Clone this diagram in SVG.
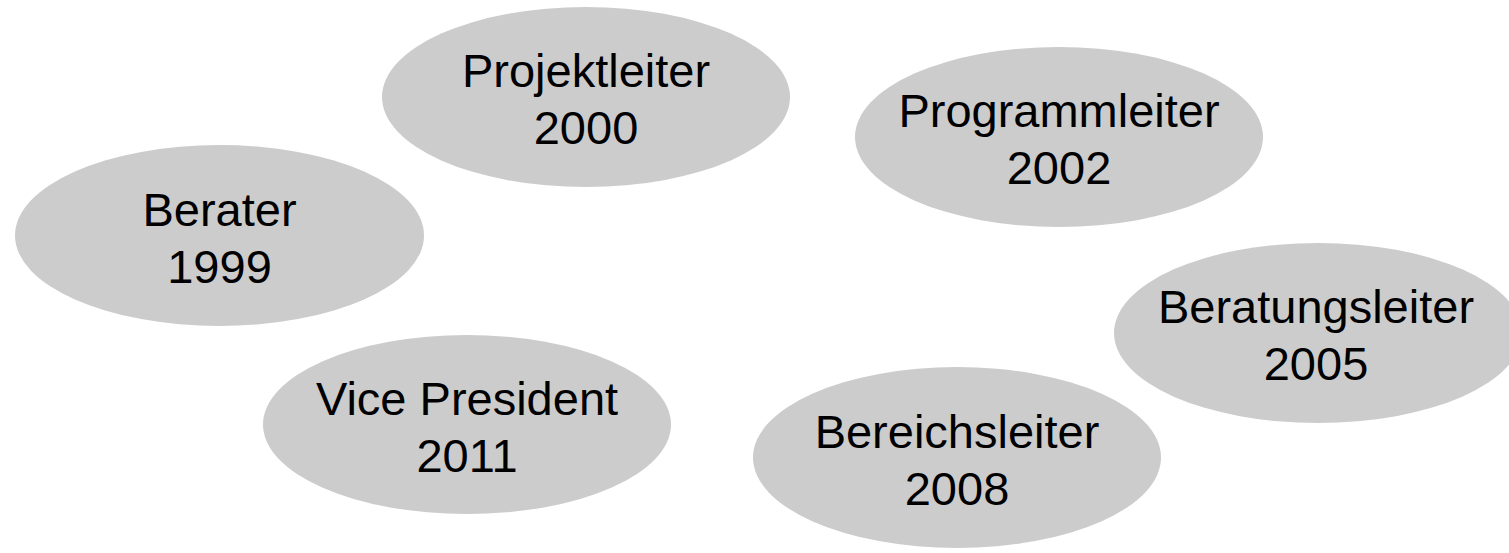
<svg xmlns="http://www.w3.org/2000/svg" width="1509" height="553" viewBox="0 0 1509 553">
<style>
.node ellipse{fill:#cccccc;stroke:none}
.node text{font-family:"Liberation Sans",Arial,sans-serif;font-size:47px;fill:#000;text-anchor:middle}
</style>
<rect width="1509" height="553" fill="#ffffff"/>
<g id="connectors"></g>
<g id="berater" class="node">
<ellipse cx="219.5" cy="235.5" rx="204.5" ry="90.5"/>
<text x="219.5" y="225.5">Berater</text>
<text x="219.5" y="282.5">1999</text>
</g>
<g id="projektleiter" class="node">
<ellipse cx="586" cy="97" rx="204" ry="90"/>
<text x="586" y="87">Projektleiter</text>
<text x="586" y="144">2000</text>
</g>
<g id="programmleiter" class="node">
<ellipse cx="1059" cy="137" rx="204" ry="90"/>
<text x="1059" y="127">Programmleiter</text>
<text x="1059" y="184">2002</text>
</g>
<g id="beratungsleiter" class="node">
<ellipse cx="1318" cy="333" rx="204" ry="90"/>
<text x="1316" y="323">Beratungsleiter</text>
<text x="1316" y="380">2005</text>
</g>
<g id="bereichsleiter" class="node">
<ellipse cx="957" cy="457.5" rx="204" ry="90.5"/>
<text x="957" y="447.5">Bereichsleiter</text>
<text x="957" y="504.5">2008</text>
</g>
<g id="vicepresident" class="node">
<ellipse cx="467" cy="424.5" rx="204" ry="89.5"/>
<text x="467" y="414.5">Vice President</text>
<text x="467" y="471.5">2011</text>
</g>
</svg>
